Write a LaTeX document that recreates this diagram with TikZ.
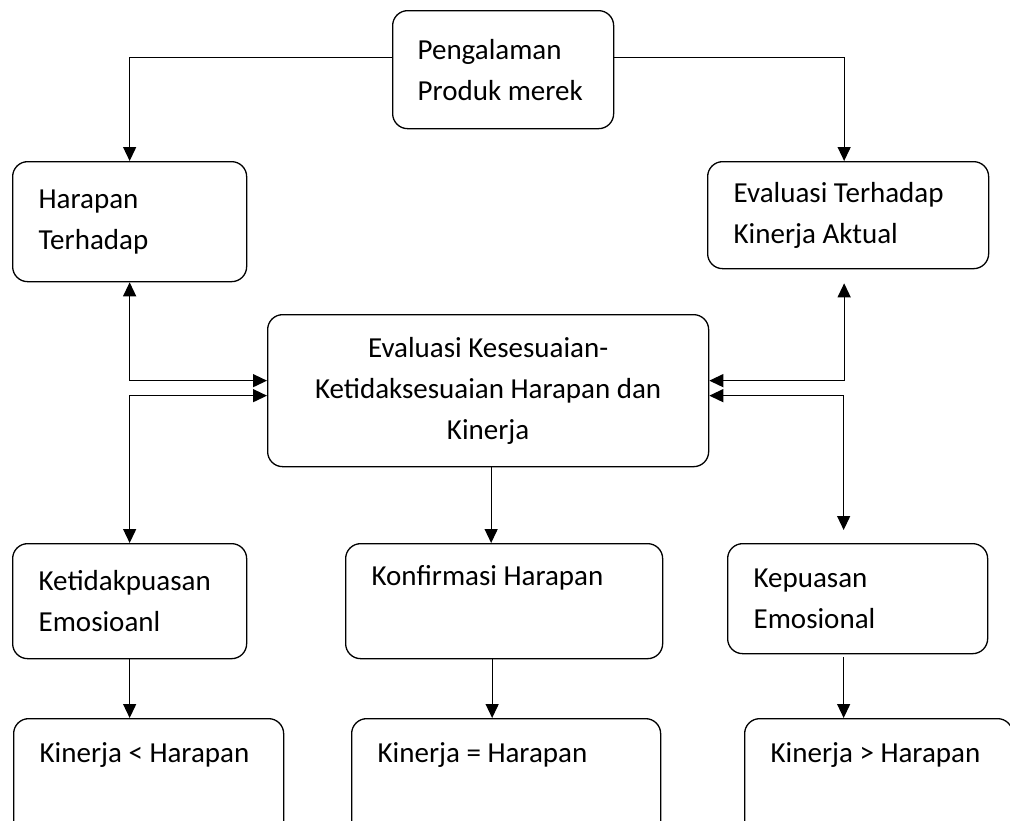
\documentclass[tikz,border=0pt]{standalone}
\usepackage{fontspec}
\setmainfont{Carlito}
\usetikzlibrary{arrows.meta, positioning}
\tikzset{
  flowbox/.style={
    rectangle, rounded corners=15pt, draw, line width=1.3pt,
    anchor=north west, inner xsep=26pt, inner ysep=0pt,
    align=flush left, font=\fontsize{29}{41}\selectfont
  },
  topline/.style={text height=19pt, text depth=#1},
  linkarrow/.style={-{Triangle[length=14pt,width=13pt]}, line width=1.3pt},
  botharrow/.style={{Triangle[length=14pt,width=13pt]}-{Triangle[length=14pt,width=13pt]},
    line width=1.3pt},
}

\begin{document}
\begin{tikzpicture}[x=1pt, y=-1pt]
    \useasboundingbox (0,0) rectangle (1010,820);

    \node[flowbox, inner xsep=25pt, text width=171pt, minimum height=118pt]
         (pengalaman) at (392,10) {Pengalaman\\Produk merek};

    \node[flowbox, text width=182pt, minimum height=120pt] (harapan) at (12,161) {Harapan\\Terhadap};
    \node[flowbox, text width=229pt, minimum height=107pt] (aktual)  at (707,161) {Evaluasi Terhadap\\Kinerja Aktual};

    \node[flowbox, align=flush center, inner xsep=10pt, text width=421pt, minimum height=152pt]
         (evaluasi) at (267,314) {Evaluasi Kesesuaian-\\Ketidaksesuaian Harapan dan\\Kinerja};

    \node[flowbox, text width=182pt, minimum height=115pt] (ketidak) at (12,543) {Ketidakpuasan\\Emosioanl};
    \node[flowbox, topline=50pt, text width=265pt, minimum height=115pt] (konfirmasi) at (345,543) {Konfirmasi Harapan};
    \node[flowbox, text width=208pt, minimum height=110pt] (kepuasan) at (727,543) {Kepuasan\\Emosional};

    \node[flowbox, topline=81pt, text width=218pt, minimum height=150pt] (kurang) at (13,718)  {Kinerja < Harapan};
    \node[flowbox, topline=81pt, text width=257pt, minimum height=150pt] (sama)   at (351,718) {Kinerja = Harapan};
    \node[flowbox, topline=81pt, text width=216pt, minimum height=150pt] (lebih)  at (744,718) {Kinerja > Harapan};

    % top row
    \draw[linkarrow] ([yshift=12pt]pengalaman.west) -| (harapan.north);
    \draw[linkarrow] ([yshift=12pt]pengalaman.east) -| ([xshift=-4pt]aktual.north);

    % around the centre box
    \coordinate (aktualgap)   at ([xshift=-4pt,yshift=-14pt]aktual.south);
    \coordinate (kepuasangap) at ([xshift=-14pt,yshift=13pt]kepuasan.north);
    \draw[botharrow] (harapan.south) |- ([yshift=10pt]evaluasi.west);
    \draw[botharrow] ([yshift=-5pt]evaluasi.west) -| (ketidak.north);
    \draw[botharrow] ([yshift=10pt]evaluasi.east) -| (aktualgap);
    \draw[botharrow] ([yshift=-5pt]evaluasi.east) -| (kepuasangap);
    \draw[linkarrow] ([xshift=3pt]evaluasi.south) -- ([xshift=3pt]evaluasi.south |- konfirmasi.north);

    % bottom row
    \draw[linkarrow] (ketidak.south) -- (ketidak.south |- kurang.north);
    \draw[linkarrow] ([xshift=-12pt]konfirmasi.south) -- ([xshift=-12pt]konfirmasi.south |- sama.north);
    \draw[linkarrow] ([xshift=-14pt,yshift=-3pt]kepuasan.south) -- ([xshift=-14pt]kepuasan.south |- lebih.north);
\end{tikzpicture}
\end{document}
